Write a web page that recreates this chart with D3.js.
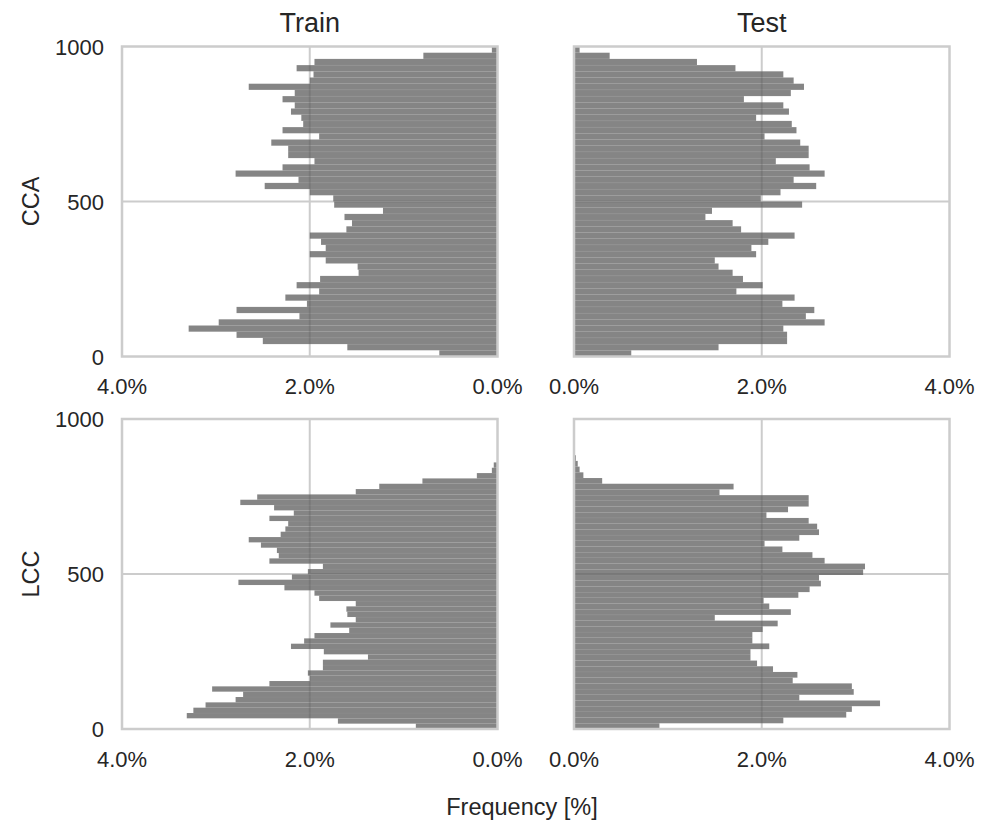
<!DOCTYPE html>
<html>
<head>
<meta charset="utf-8">
<script src="https://cdn.jsdelivr.net/npm/d3@7"></script>
<style>
  body { margin: 0; background: #fff; }
  text { font-family: "Liberation Sans", Arial, sans-serif; fill: #262626; }
</style>
</head>
<body>
<div id="chart-area"></div>
<script>
const rowNames = ["CCA", "LCC"];
const colNames = ["Train", "Test"];
const yTicks = [0, 500, 1000];
const xTicks = [0, 2, 4];

// upper edge of the 50 equal bins (lower edge is 0), per row/column
const ccaTrainTop = 1000;
const ccaTestTop = 1000;
const lccTrainTop = 860;
const lccTestTop = 920;

// frequency in %, bins listed from the bottom (0) upwards
const ccaTrain = [0.62, 1.60, 2.50, 2.78, 3.29, 2.97, 2.11, 2.78, 2.03, 2.26,
  1.90, 2.14, 1.89, 1.48, 1.49, 1.83, 2.00, 1.83, 1.88, 2.00,
  1.61, 1.55, 1.63, 1.22, 1.74, 1.75, 2.00, 2.48, 2.12, 2.79,
  2.29, 1.95, 2.23, 2.23, 2.41, 1.90, 2.29, 2.07, 2.09, 2.20,
  2.16, 2.29, 2.16, 2.65, 2.00, 1.96, 2.14, 1.95, 0.79, 0.06];
const ccaTest = [0.61, 1.54, 2.27, 2.27, 2.23, 2.67, 2.47, 2.56, 2.22, 2.35,
  1.73, 2.01, 1.80, 1.69, 1.54, 1.50, 1.94, 1.89, 2.07, 2.35,
  1.78, 1.69, 1.40, 1.47, 2.43, 1.99, 2.20, 2.58, 2.34, 2.67,
  2.51, 2.15, 2.50, 2.50, 2.41, 2.03, 2.37, 2.32, 1.94, 2.29,
  2.23, 1.81, 2.31, 2.45, 2.34, 2.23, 1.72, 1.31, 0.38, 0.06];
const lccTrain = [0.87, 1.70, 3.31, 3.24, 3.11, 2.79, 2.71, 3.04, 2.43, 2.00,
  2.02, 1.86, 1.86, 1.38, 1.85, 2.20, 2.06, 1.95, 1.58, 1.78,
  1.51, 1.60, 1.61, 1.51, 1.90, 1.95, 2.27, 2.76, 2.19, 2.02,
  1.86, 2.43, 2.33, 2.35, 2.52, 2.65, 2.31, 2.26, 2.23, 2.43,
  2.17, 2.38, 2.74, 2.56, 1.51, 1.26, 0.80, 0.22, 0.06, 0.04];
const lccTest = [0.91, 2.23, 2.90, 2.96, 3.26, 2.40, 2.98, 2.96, 2.33, 2.38,
  2.12, 1.95, 1.88, 1.88, 2.08, 1.90, 1.90, 2.01, 2.17, 1.50,
  2.31, 2.08, 2.02, 2.39, 2.51, 2.63, 2.61, 3.08, 3.10, 2.67,
  2.54, 2.22, 2.03, 2.40, 2.61, 2.59, 2.50, 2.05, 2.28, 2.50,
  2.50, 1.55, 1.70, 0.30, 0.10, 0.06, 0.04, 0.02, 0.01, 0.01];

const panels = [
  {row: 0, col: 0, values: ccaTrain, top: ccaTrainTop},
  {row: 0, col: 1, values: ccaTest, top: ccaTestTop},
  {row: 1, col: 0, values: lccTrain, top: lccTrainTop},
  {row: 1, col: 1, values: lccTest, top: lccTestTop}
];

const chartSize = {width: 982, height: 824};
const colLeft = [122, 574];
const rowTop = [46.5, 419];
const panelW = 375.5;
const panelH = 310;

const svg = d3.select("#chart-area")
  .append("svg")
  .attr("width", chartSize.width)
  .attr("height", chartSize.height);

svg.append("rect").attr("width", chartSize.width).attr("height", chartSize.height).attr("fill", "#fff");

const fmtPct = d3.format(".1f");

panels.forEach(p => {
  const left = colLeft[p.col];
  const top = rowTop[p.row];
  const g = svg.append("g").attr("transform", `translate(${left}, ${top})`);

  const y = d3.scaleLinear().domain([0, 1000]).range([panelH, 0]);
  // train panels run right-to-left
  const x = d3.scaleLinear()
    .domain(p.col === 0 ? [4, 0] : [0, 4])
    .range([0, panelW]);

  // grid
  g.append("line")
    .attr("x1", x(2)).attr("x2", x(2))
    .attr("y1", 0).attr("y2", panelH)
    .attr("stroke", "#cccccc").attr("stroke-width", 2);
  g.append("line")
    .attr("x1", 0).attr("x2", panelW)
    .attr("y1", y(500)).attr("y2", y(500))
    .attr("stroke", "#cccccc").attr("stroke-width", 2);

  const binW = p.top / p.values.length;
  g.selectAll("rect.bar").data(p.values).enter()
    .append("rect")
    .attr("class", "bar")
    .attr("x", v => Math.min(x(0), x(v)))
    .attr("width", v => Math.abs(x(v) - x(0)))
    .attr("y", (v, i) => y((i + 1) * binW))
    .attr("height", (v, i) => y(i * binW) - y((i + 1) * binW))
    .attr("fill", "#5c5c5c")
    .attr("fill-opacity", 0.75)
    .attr("stroke", "#ffffff")
    .attr("stroke-opacity", 0.08)
    .attr("stroke-width", 0.5);

  // frame
  g.append("rect")
    .attr("x", 0).attr("y", 0)
    .attr("width", panelW).attr("height", panelH)
    .attr("fill", "none")
    .attr("stroke", "#cccccc")
    .attr("stroke-width", 2.5);

  // x tick labels
  g.selectAll("text.xtick").data(xTicks).enter()
    .append("text")
    .attr("class", "xtick")
    .attr("x", d => x(d))
    .attr("y", panelH + 37.5)
    .attr("text-anchor", "middle")
    .style("font-size", "22px")
    .text(d => fmtPct(d) + "%");

  if (p.col === 0) {
    g.selectAll("text.ytick").data(yTicks).enter()
      .append("text")
      .attr("class", "ytick")
      .attr("x", -18)
      .attr("y", d => y(d) + 8)
      .attr("text-anchor", "end")
      .style("font-size", "22px")
      .text(d => d);

    svg.append("text")
      .attr("transform", `translate(39, ${top + panelH / 2}) rotate(-90)`)
      .attr("text-anchor", "middle")
      .style("font-size", "23.5px")
      .text(rowNames[p.row]);
  }

  if (p.row === 0) {
    svg.append("text")
      .attr("x", left + panelW / 2)
      .attr("y", 32)
      .attr("text-anchor", "middle")
      .style("font-size", "27px")
      .text(colNames[p.col]);
  }
});

svg.append("text")
  .attr("x", 522)
  .attr("y", 815)
  .attr("text-anchor", "middle")
  .style("font-size", "23.5px")
  .text("Frequency [%]");
</script>
</body>
</html>
